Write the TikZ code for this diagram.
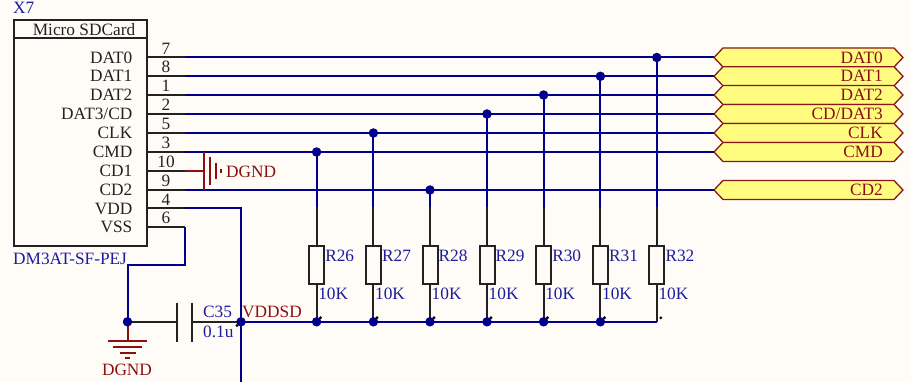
\documentclass[tikz,border=0pt]{standalone}
\usepackage{fontspec}
\setmainfont{Liberation Serif}
\definecolor{netblue}{HTML}{00008C}
\definecolor{txtblue}{HTML}{1C1C9C}
\definecolor{pwr}{HTML}{8A1010}
\definecolor{tagfill}{HTML}{FFFC80}
\definecolor{tagline}{HTML}{8A1818}
\definecolor{bg}{HTML}{FFFCF8}
\definecolor{ink}{HTML}{222222}
\tikzset{
  x=1pt,y=-1pt,
  net/.style={draw=netblue,line width=2pt},
  lead/.style={draw=ink,line width=2pt},
  pwrline/.style={draw=pwr,line width=2pt},
  junction/.style={circle,fill=netblue,draw=none,minimum size=9.5pt,inner sep=0pt},
  tick/.style={circle,fill=black,draw=none,minimum size=3.2pt,inner sep=0pt},
  body/.style={draw=ink,line width=2pt,fill=bg},
  plain/.style={inner sep=0pt,font=\fontsize{17.3}{19}\selectfont},
  pinname/.style={plain,anchor=east,text=ink},
  pinnum/.style={plain,text=ink},
  blue text/.style={plain,anchor=west,text=txtblue},
  red text/.style={plain,anchor=west,text=pwr},
  tagshape/.style={draw=tagline,fill=tagfill,line width=1.3pt,line join=miter},
  taglabel/.style={plain,anchor=east,text=pwr},
}
\begin{document}
\begin{tikzpicture}
\path[fill=bg] (0,0) rectangle (911,382);
\useasboundingbox (0,0) rectangle (911,382);
% symbol
\node[blue text] (x7) at (13,8) {X7};
\draw[body] (14,20) rectangle (146.5,246);
\coordinate (titleL) at (14,38.5);
\coordinate (titleR) at (146.5,38.5);
\draw[lead] (titleL) -- (titleR);
\node[plain,text=ink] (title) at (84,29.5) {Micro SDCard};
\node[blue text] (part) at (13,258.5) {DM3AT-SF-PEJ};
% pin rows
\foreach \nm/\lab/\num/\yy in {a/DAT0/7/57.5,b/DAT1/8/76.3,c/DAT2/1/95,d/DAT3\slash CD/2/114,e/CLK/5/133,f/CMD/3/152,g/CD1/10/171,h/CD2/9/190,i/VDD/4/208.5,j/VSS/6/227.3}{
  \coordinate (p\num) at (146.5,\yy);
  \coordinate (q\num) at (184.5,\yy);
  \node[pinname] at (132.5,\yy) {\lab};
  \node[pinnum] at (166,\yy-9) {\num};
}
% tags
\foreach \nm/\lab/\yy in {t7/DAT0/57.5,t8/DAT1/76.3,t1/DAT2/95,t2/CD\slash DAT3/114,t5/CLK/133,t3/CMD/152,t9/CD2/190}{
  \coordinate (\nm) at (714,\yy);
  \draw[tagshape] (714,\yy) -- (723,\yy-9.5) -- (894,\yy-9.5) -- (903,\yy) -- (894,\yy+9.5) -- (723,\yy+9.5) -- cycle;
  \node[taglabel] at (883,\yy) {\lab};
}
% nets to tags
\foreach \n/\t in {7/t7,8/t8,1/t1,2/t2,5/t5,3/t3,9/t9}{
  \draw[net] (q\n) -- (\t);
}
% resistors
\foreach \nm/\xx/\n/\tp in {26/316.6/3/152,27/373.4/5/133,28/430/9/190,29/487/2/114,30/543.6/1/95,31/600.4/8/76.3,32/656.8/7/57.5}{
  \coordinate (top\nm) at (\xx,\tp);
  \coordinate (mid\nm) at (\xx,207);
  \coordinate (bus\nm) at (\xx,321.8);
  \draw[net] (top\nm) -- (mid\nm);
  \draw[lead] (mid\nm) -- (bus\nm);
  \node[body,rectangle,minimum width=15pt,minimum height=37.5pt,inner sep=0pt] (R\nm) at (\xx,265) {};
  \node[blue text] at (\xx+8.5,256) {R\nm};
  \node[blue text] at (\xx+1.5,293.5) {10K};
}
\coordinate (vddc) at (241,321.8);
\coordinate (vddt) at (241,208.5);
\coordinate (vddb) at (241,382);
\coordinate (gndc) at (127.5,321.8);
\coordinate (vssc) at (184.5,264.8);
\coordinate (vssd) at (127.5,264.8);
% bus
\draw[net] (vddc) -- (bus32);
\draw[net] (q4) -- (vddt) -- (vddb);
\draw[net] (q6) -- (vssc) -- (vssd) -- (gndc);
% capacitor
\coordinate (c1t) at (177,302.7);\coordinate (c1b) at (177,341.5);
\coordinate (c2t) at (192,302.7);\coordinate (c2b) at (192,341.5);
\coordinate (c1) at (177,321.8);\coordinate (c2) at (192,321.8);
\draw[lead] (gndc) -- (c1);
\draw[lead] (c2) -- (vddc);
\draw[lead] (c1t) -- (c1b);
\draw[lead] (c2t) -- (c2b);
\node[blue text] at (203,312) {C35};
\node[blue text] at (203,332) {0.1u};
\node[red text] at (242,312) {VDDSD};
% ground
\coordinate (g0) at (127.5,341);
\draw[pwrline] (gndc) -- (g0);
\draw[pwrline] (108,341) -- (147,341);
\draw[pwrline] (113,346.8) -- (142,346.8);
\draw[pwrline] (119.5,352.5) -- (136,352.5);
\draw[pwrline] (124.5,358) -- (130,358);
\node[red text,anchor=center] at (127,370) {DGND};
% CD1 port
\coordinate (cd1) at (203.5,171);
\draw[pwrline] (q10) -- (cd1);
\draw[pwrline] (203.5,152) -- (203.5,190);
\draw[pwrline] (209.5,157) -- (209.5,185);
\draw[pwrline] (215.5,163) -- (215.5,179);
\draw[pwrline] (221,169) -- (221,173);
\node[red text] at (226,171.5) {DGND};
% pin stubs on top
\foreach \n in {7,8,1,2,5,3,10,9,4,6}{
  \draw[lead] (p\n) -- (q\n);
}
% junctions
\foreach \a/\b in {316.6/152,373.4/133,430/190,487/114,543.6/95,600.4/76.3,656.8/57.5,316.6/321.8,373.4/321.8,430/321.8,487/321.8,543.6/321.8,600.4/321.8,241/321.8,127.5/321.8}{
  \node[junction] at (\a,\b) {};
}
\foreach \a/\b in {320.5/317.8,377/317.8,434/317.8,491/317.8,547.5/317.8,604.5/317.8,660.8/317.8,237/325.5}{
  \node[tick] at (\a,\b) {};
}
\end{tikzpicture}
\end{document}
